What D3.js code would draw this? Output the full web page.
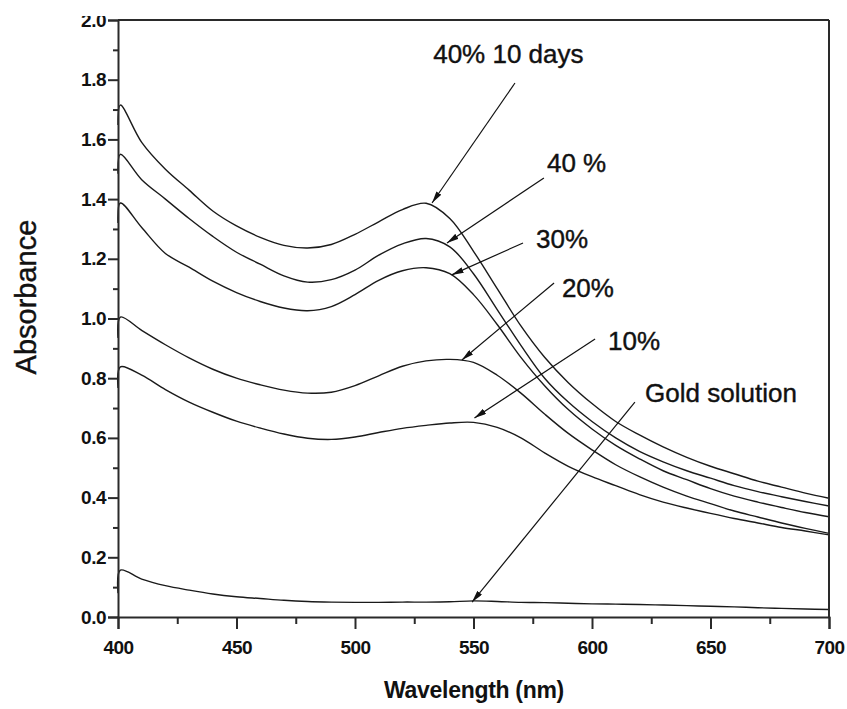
<!DOCTYPE html>
<html>
<head>
<meta charset="utf-8">
<script src="https://cdn.jsdelivr.net/npm/d3@7"></script>
<style>
  html, body { margin: 0; padding: 0; background: #fff; }
  svg { display: block; }
</style>
</head>
<body>
<svg id="chart" width="847" height="709"></svg>
<script>
// ---------------- DATA ----------------
const wavelengths = [400, 401, 410, 420, 430, 440, 450, 460, 470, 480, 490, 500, 510, 520, 530, 540, 550, 560, 570, 580, 590, 600, 610, 620, 630, 640, 650, 660, 670, 680, 690, 700];

const seriesNames = ["40% 10 days", "40 %", "30%", "20%", "10%", "Gold solution"];

const abs40pct10days = [1.648, 1.715, 1.59, 1.50, 1.43, 1.36, 1.31, 1.272, 1.245, 1.236, 1.248, 1.282, 1.324, 1.365, 1.386, 1.335, 1.225, 1.10, 0.975, 0.87, 0.785, 0.715, 0.655, 0.61, 0.57, 0.535, 0.505, 0.48, 0.455, 0.435, 0.415, 0.398];
const abs40pct = [1.485, 1.55, 1.465, 1.40, 1.335, 1.275, 1.222, 1.182, 1.143, 1.122, 1.13, 1.162, 1.212, 1.25, 1.268, 1.24, 1.15, 1.03, 0.91, 0.80, 0.72, 0.655, 0.60, 0.555, 0.52, 0.49, 0.465, 0.44, 0.42, 0.403, 0.387, 0.372];
const abs30pct = [1.32, 1.387, 1.305, 1.218, 1.172, 1.125, 1.087, 1.057, 1.035, 1.026, 1.04, 1.08, 1.128, 1.16, 1.17, 1.15, 1.08, 0.98, 0.87, 0.775, 0.695, 0.63, 0.575, 0.53, 0.49, 0.46, 0.43, 0.405, 0.385, 0.367, 0.35, 0.336];
const abs20pct = [0.935, 1.005, 0.96, 0.912, 0.868, 0.83, 0.80, 0.778, 0.76, 0.75, 0.753, 0.775, 0.808, 0.84, 0.858, 0.863, 0.853, 0.81, 0.75, 0.68, 0.615, 0.56, 0.51, 0.47, 0.435, 0.405, 0.38, 0.355, 0.335, 0.315, 0.297, 0.28];
const abs10pct = [0.767, 0.838, 0.81, 0.762, 0.72, 0.686, 0.656, 0.633, 0.613, 0.599, 0.595, 0.603, 0.618, 0.632, 0.642, 0.65, 0.652, 0.635, 0.60, 0.55, 0.505, 0.47, 0.44, 0.41, 0.385, 0.365, 0.347, 0.33, 0.315, 0.30, 0.288, 0.275];
const absGold = [0.08, 0.157, 0.127, 0.105, 0.09, 0.077, 0.068, 0.062, 0.056, 0.052, 0.05, 0.049, 0.049, 0.05, 0.05, 0.051, 0.054, 0.052, 0.049, 0.048, 0.046, 0.044, 0.043, 0.042, 0.04, 0.038, 0.036, 0.034, 0.031, 0.029, 0.027, 0.025];

const seriesValues = [abs40pct10days, abs40pct, abs30pct, abs20pct, abs10pct, absGold];

// tick values
const yMajorTicks = [0.0, 0.2, 0.4, 0.6, 0.8, 1.0, 1.2, 1.4, 1.6, 1.8, 2.0];
const yMinorTicks = [0.1, 0.3, 0.5, 0.7, 0.9, 1.1, 1.3, 1.5, 1.7, 1.9];
const xMajorTicks = [400, 450, 500, 550, 600, 650, 700];
const xMinorTicks = [425, 475, 525, 575, 625, 675];

// annotation labels (data coordinates)
const labelText   = ["40% 10 days", "40 %", "30%", "20%", "10%", "Gold solution"];
const labelNm     = [533, 581, 576.4, 587.3, 606.8, 622.4];
const labelAbs    = [1.856, 1.491, 1.236, 1.072, 0.894, 0.72];
const arrowFromNm = [567.5, 579.7, 570.9, 584.0, 601.3, 618.1];
const arrowFromAbs= [1.789, 1.471, 1.253, 1.119, 0.931, 0.72];
const arrowTipNm  = [532.5, 538.8, 540.8, 545.1, 550.4, 549.4];
const arrowTipAbs = [1.387, 1.253, 1.146, 0.861, 0.667, 0.05];

// ---------------- CHART ----------------
const svg = d3.select("#chart");
const mLeft = 118, mRight = 829, mTop = 20, mBottom = 617;
const x = d3.scaleLinear().domain([400, 700]).range([mLeft, mRight]);
const y = d3.scaleLinear().domain([0, 2]).range([mBottom, mTop]);

const axisColor = "#2a2a2a";
const fontTick = "'Liberation Sans', Arial, sans-serif";

// curves
const line = d3.line()
  .x((d, i) => x(wavelengths[i]))
  .y(d => y(d))
  .curve(d3.curveCatmullRom.alpha(0.5));

svg.append("g").selectAll("path")
  .data(seriesValues)
  .join("path")
  .attr("d", d => line(d))
  .attr("fill", "none")
  .attr("stroke", "#1a1a1a")
  .attr("stroke-width", 1.4);

// frame (top & right)
svg.append("line").attr("x1", mLeft).attr("x2", mRight).attr("y1", mTop).attr("y2", mTop)
  .attr("stroke", axisColor).attr("stroke-width", 2);
svg.append("line").attr("x1", mRight).attr("x2", mRight).attr("y1", mTop).attr("y2", mBottom)
  .attr("stroke", axisColor).attr("stroke-width", 2);

// Y axis
svg.append("g").attr("transform", `translate(${mLeft},0)`)
  .call(d3.axisLeft(y).tickValues(yMajorTicks).tickSize(10).tickPadding(2).tickFormat(d3.format(".1f")));
svg.append("g").attr("transform", `translate(${mLeft},0)`)
  .call(d3.axisLeft(y).tickValues(yMinorTicks).tickSize(5).tickFormat(""))
  .call(g => g.select(".domain").remove());

// X axis
svg.append("g").attr("transform", `translate(0,${mBottom})`)
  .call(d3.axisBottom(x).tickValues(xMajorTicks).tickSize(12).tickPadding(12).tickFormat(d3.format("d")));
svg.append("g").attr("transform", `translate(0,${mBottom})`)
  .call(d3.axisBottom(x).tickValues(xMinorTicks).tickSize(7).tickFormat(""))
  .call(g => g.select(".domain").remove());

svg.selectAll(".domain").attr("stroke", axisColor).attr("stroke-width", 2);
svg.selectAll(".tick line").attr("stroke", axisColor).attr("stroke-width", 2);
svg.selectAll(".tick text")
  .attr("fill", "#111")
  .style("font-family", fontTick)
  .style("font-weight", "bold")
  .style("font-size", "19px")
  .style("letter-spacing", "-0.5px");

// cover top part of the "2.0" label (image is cropped there)
svg.append("rect").attr("x", 60).attr("y", 0).attr("width", 52).attr("height", 16).attr("fill", "#fff");

// axis titles
svg.append("text")
  .attr("transform", `translate(36,297) rotate(-90)`)
  .attr("text-anchor", "middle")
  .style("font-family", fontTick)
  .style("font-size", "29px")
  .attr("fill", "#111")
  .attr("stroke", "#111").attr("stroke-width", 0.4)
  .text("Absorbance");

svg.append("text")
  .attr("x", 474)
  .attr("y", 698)
  .attr("text-anchor", "middle")
  .style("font-family", fontTick)
  .style("font-weight", "bold")
  .style("font-size", "23px")
  .style("letter-spacing", "-0.3px")
  .attr("fill", "#111")
  .text("Wavelength (nm)");

// arrowhead marker
svg.append("defs").append("marker")
  .attr("id", "arrowhead")
  .attr("viewBox", "0 -3 12 6")
  .attr("refX", 12).attr("refY", 0)
  .attr("markerUnits", "userSpaceOnUse")
  .attr("markerWidth", 12).attr("markerHeight", 6)
  .attr("orient", "auto")
  .append("path").attr("d", "M0,-3L12,0L0,3Z").attr("fill", "#111");

// annotations
const ann = svg.append("g");
labelText.forEach((t, i) => {
  ann.append("line")
    .attr("x1", x(arrowFromNm[i])).attr("y1", y(arrowFromAbs[i]))
    .attr("x2", x(arrowTipNm[i])).attr("y2", y(arrowTipAbs[i]))
    .attr("stroke", "#111").attr("stroke-width", 1.2)
    .attr("marker-end", "url(#arrowhead)");
  ann.append("text")
    .attr("x", x(labelNm[i])).attr("y", y(labelAbs[i]))
    .style("font-family", fontTick)
    .style("font-size", "26px")
    .attr("fill", "#111")
    .attr("stroke", "#111").attr("stroke-width", 0.4)
    .text(t);
});
</script>
</body>
</html>
